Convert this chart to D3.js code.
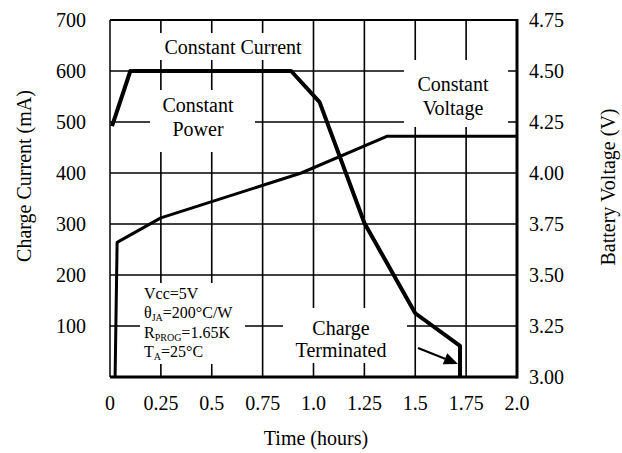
<!DOCTYPE html>
<html>
<head>
<meta charset="utf-8">
<script src="https://cdn.jsdelivr.net/npm/d3@7"></script>
<style>
  body { margin: 0; background: #fff; }
  text { font-family: "Liberation Serif", "Times New Roman", serif; fill: #000; }
</style>
</head>
<body>
<div id="chart"></div>
<script>
// data
let time_ticks = [0, 0.25, 0.5, 0.75, 1.0, 1.25, 1.5, 1.75, 2.0];
let time_labels = ["0", "0.25", "0.5", "0.75", "1.0", "1.25", "1.5", "1.75", "2.0"];
let current_ticks = [100, 200, 300, 400, 500, 600, 700];
let voltage_ticks = [3.0, 3.25, 3.5, 3.75, 4.0, 4.25, 4.5, 4.75];

// charge current (mA) vs time (h)
let current_t = [0.01, 0.10, 0.89, 1.03, 1.25, 1.50, 1.72, 1.72];
let current_ma = [492, 600, 600, 539, 302, 125, 61, 0];

// battery voltage (V) vs time (h)
let voltage_t = [0.025, 0.035, 0.25, 0.94, 1.36, 2.0];
let voltage_v = [3.0, 3.66, 3.78, 4.0, 4.18, 4.18];

let width = 622, height = 453;
let plot_left = 110, plot_right = 517, plot_top = 20, plot_bottom = 377;

let svg = d3.select("#chart").append("svg")
  .attr("width", width)
  .attr("height", height);

let x = d3.scaleLinear().domain([0, 2]).range([plot_left, plot_right]);
let yI = d3.scaleLinear().domain([0, 700]).range([plot_bottom, plot_top]);
let yV = d3.scaleLinear().domain([3.0, 4.75]).range([plot_bottom, plot_top]);

// grid
let grid = svg.append("g").attr("stroke", "#000").attr("stroke-width", 1.6);
time_ticks.slice(1, -1).forEach(t => {
  grid.append("line").attr("x1", x(t)).attr("x2", x(t)).attr("y1", plot_top).attr("y2", plot_bottom);
});
current_ticks.slice(0, -1).forEach(c => {
  grid.append("line").attr("x1", plot_left).attr("x2", plot_right).attr("y1", yI(c)).attr("y2", yI(c));
});

// white patches behind the labels (they cut the grid)
let patches = [[150, 33, 150, 27], [150, 90, 105, 62], [404, 60, 104, 67], [140, 283, 105, 81], [283, 308, 124, 55]];
patches.forEach(p => {
  svg.append("rect").attr("x", p[0]).attr("y", p[1]).attr("width", p[2]).attr("height", p[3]).attr("fill", "#fff");
});

// frame
svg.append("line").attr("x1", plot_left).attr("x2", plot_left).attr("y1", plot_top).attr("y2", plot_bottom).attr("stroke", "#000").attr("stroke-width", 1.5);
svg.append("line").attr("x1", plot_left).attr("x2", plot_right).attr("y1", plot_top).attr("y2", plot_top).attr("stroke", "#000").attr("stroke-width", 1.8);
svg.append("line").attr("x1", plot_right).attr("x2", plot_right).attr("y1", plot_top - 1).attr("y2", plot_bottom + 1.5).attr("stroke", "#000").attr("stroke-width", 3);
svg.append("line").attr("x1", plot_left).attr("x2", plot_right).attr("y1", plot_bottom).attr("y2", plot_bottom).attr("stroke", "#000").attr("stroke-width", 3);

// axes labels
let fs = 20;
svg.selectAll(".xt").data(time_ticks).enter().append("text")
  .attr("x", d => x(d)).attr("y", 410)
  .attr("text-anchor", "middle").attr("font-size", fs)
  .text((d, i) => time_labels[i]);

svg.selectAll(".yl").data(current_ticks).enter().append("text")
  .attr("x", 86).attr("y", d => yI(d) + 7)
  .attr("text-anchor", "end").attr("font-size", fs)
  .text(d => d);

svg.selectAll(".yr").data(voltage_ticks).enter().append("text")
  .attr("x", 529).attr("y", d => yV(d) + 7)
  .attr("text-anchor", "start").attr("font-size", fs)
  .text(d => d.toFixed(2));

svg.append("text").attr("x", 316).attr("y", 445).attr("text-anchor", "middle").attr("font-size", fs).text("Time (hours)");
svg.append("text").attr("transform", "translate(31,176) rotate(-90)").attr("text-anchor", "middle").attr("font-size", fs).text("Charge Current (mA)");
svg.append("text").attr("transform", "translate(615,187) rotate(-90)").attr("text-anchor", "middle").attr("font-size", fs).text("Battery Voltage (V)");

// curves
let lineI = d3.line().x((d, i) => x(current_t[i])).y(d => yI(d));
let lineV = d3.line().x((d, i) => x(voltage_t[i])).y(d => yV(d));

svg.append("path").attr("d", lineV(voltage_v)).attr("fill", "none").attr("stroke", "#000").attr("stroke-width", 3).attr("stroke-linejoin", "round");
svg.append("path").attr("d", lineI(current_ma)).attr("fill", "none").attr("stroke", "#000").attr("stroke-width", 4).attr("stroke-linejoin", "round");

// region labels
function label(lines, cx, y0, dy, size) {
  lines.forEach((s, i) => {
    svg.append("text").attr("x", cx).attr("y", y0 + i * dy).attr("text-anchor", "middle").attr("font-size", size).text(s);
  });
}
label(["Constant Current"], 233, 54, 0, 20);
label(["Constant", "Power"], 198, 112, 24, 20);
label(["Constant", "Voltage"], 453, 91, 24, 20);
label(["Charge", "Terminated"], 341, 335, 22, 20);

// conditions block
let cond = svg.append("g");
function condLine(y, base, sub, rest) {
  let t = cond.append("text").attr("x", 144).attr("y", y).attr("font-size", 16);
  t.append("tspan").text(base);
  if (sub) t.append("tspan").attr("font-size", 10).attr("dy", 3).text(sub);
  t.append("tspan").attr("dy", sub ? -3 : 0).text(rest);
}
condLine(299, "Vcc=5V", null, "");
condLine(318, "θ", "JA", "=200°C/W");
condLine(338, "R", "PROG", "=1.65K");
condLine(357, "T", "A", "=25°C");

// arrow to the termination point
let ax1 = 418, ay1 = 348, ax2 = x(current_t[6]) - 2, ay2 = 364;
let ang = Math.atan2(ay2 - ay1, ax2 - ax1);
let hl = 14, hw = 6;
let bx = ax2 - hl * Math.cos(ang), by = ay2 - hl * Math.sin(ang);
svg.append("line").attr("x1", ax1).attr("y1", ay1)
  .attr("x2", bx).attr("y2", by)
  .attr("stroke", "#000").attr("stroke-width", 2);
svg.append("path")
  .attr("d", `M${ax2},${ay2} L${bx + hw * Math.sin(ang)},${by - hw * Math.cos(ang)} L${bx - hw * Math.sin(ang)},${by + hw * Math.cos(ang)} Z`)
  .attr("fill", "#000");
</script>
</body>
</html>
